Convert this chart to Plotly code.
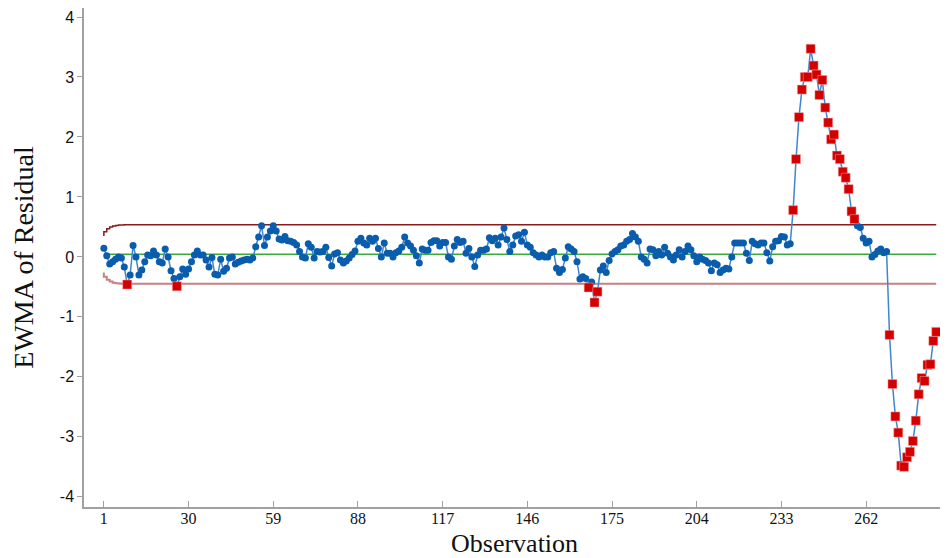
import plotly.graph_objects as go

# EWMA of residual values, observation 1..N
ewma = [
    0.145, 0.02, -0.12, -0.08, -0.04, 0.0, -0.02, -0.17, -0.46, -0.3,
    0.19, 0.0, -0.3, -0.22, -0.08, 0.03, 0.02, 0.1, 0.03, -0.08,
    -0.1, 0.13, 0.0, -0.23, -0.36, -0.49, -0.33, -0.2, -0.29, -0.2,
    -0.08, 0.03, 0.1, 0.03, 0.03, -0.05, -0.17, -0.01, -0.29, -0.3,
    -0.04, -0.24, -0.19, -0.02, 0.0, -0.12, -0.09, -0.07, -0.05, -0.04,
    -0.05, -0.02, 0.17, 0.33, 0.52, 0.19, 0.33, 0.43, 0.52, 0.43,
    0.3, 0.28, 0.34, 0.27, 0.26, 0.24, 0.2, 0.09, 0.0, -0.02,
    0.22, 0.16, -0.02, 0.09, 0.08, 0.09, 0.16, -0.01, -0.15, 0.05,
    0.07, -0.05, -0.1, -0.07, -0.02, 0.04, 0.1, 0.26, 0.31, 0.23,
    0.2, 0.31, 0.26, 0.31, 0.14, 0.0, 0.23, 0.06, 0.06, 0.0,
    0.07, 0.1, 0.16, 0.33, 0.23, 0.18, 0.11, 0.02, -0.1, 0.13,
    0.11, 0.11, 0.24, 0.27, 0.27, 0.18, 0.24, 0.24, 0.0, -0.04,
    0.18, 0.29, 0.24, 0.26, 0.06, 0.14, 0.0, -0.16, 0.03, 0.11,
    0.11, 0.13, 0.32, 0.27, 0.31, 0.2, 0.33, 0.48, 0.29, 0.09,
    0.2, 0.35, 0.37, 0.26, 0.41, 0.2, 0.16, 0.07, 0.03, 0.0,
    0.03, 0.0, 0.0, 0.07, 0.09, -0.19, -0.26, -0.21, -0.02, 0.17,
    0.13, 0.09, -0.08, -0.37, -0.33, -0.36, -0.51, -0.42, -0.76, -0.58,
    -0.22, -0.15, -0.26, -0.06, 0.05, 0.09, 0.12, 0.18, 0.2, 0.26,
    0.29, 0.39, 0.33, 0.26, 0.0, -0.04, -0.1, 0.13, 0.12, 0.02,
    0.09, 0.03, 0.16, 0.06, 0.0, -0.05, 0.03, 0.12, 0.0, 0.09,
    0.18, 0.12, 0.02, -0.08, 0.0, -0.04, -0.06, -0.1, -0.23, -0.1,
    -0.13, -0.26, -0.22, -0.19, -0.2, 0.0, 0.23, 0.23, 0.23, 0.23,
    0.06, -0.06, 0.26, 0.22, 0.2, 0.23, 0.23, 0.07, -0.07, 0.17,
    0.26, 0.27, 0.34, 0.33, 0.2, 0.22, 0.78, 1.63, 2.33, 2.79,
    3.0, 3.0, 3.47, 3.19, 3.04, 2.7, 2.95, 2.49, 2.24, 1.96,
    2.04, 1.69, 1.63, 1.42, 1.32, 1.13, 0.76, 0.63, 0.52, 0.49,
    0.31, 0.23, 0.26, 0.0, 0.04, 0.1, 0.13, 0.07, 0.09, -1.3,
    -2.12, -2.66, -2.93, -3.48, -3.5, -3.34, -3.25, -3.07, -2.73, -2.29,
    -2.02, -2.07, -1.8, -1.79, -1.4, -1.25,
]

# Control limits (first observations widen, then steady)
center_value = 0.045
ucl_start = [0.35, 0.42, 0.47, 0.50, 0.515, 0.525, 0.53, 0.533]
ucl_steady = 0.535
lcl_start = [-0.26, -0.33, -0.38, -0.41, -0.43, -0.44, -0.445, -0.447]
lcl_steady = -0.447

x_tick_vals = [1, 30, 59, 88, 117, 146, 175, 204, 233, 262]
y_tick_vals = [-4, -3, -2, -1, 0, 1, 2, 3, 4]
y_tick_text = ["-4", "-3", "-2", "-1", "0", "1", "2", "3", "4"]

n = len(ewma)
obs = list(range(1, n + 1))
ucl = ucl_start + [ucl_steady] * (n - len(ucl_start))
lcl = lcl_start + [lcl_steady] * (n - len(lcl_start))
center = [center_value] * n

out_x = [o for o, v, u, l in zip(obs, ewma, ucl, lcl) if v > u or v < l]
out_y = [v for o, v, u, l in zip(obs, ewma, ucl, lcl) if v > u or v < l]
in_x = [o for o, v, u, l in zip(obs, ewma, ucl, lcl) if l <= v <= u]
in_y = [v for o, v, u, l in zip(obs, ewma, ucl, lcl) if l <= v <= u]

fig = go.Figure()
fig.add_trace(go.Scatter(x=obs, y=ucl, mode="lines", line=dict(color="#8b1a1a", width=1.5, shape="vh"), hoverinfo="skip"))
fig.add_trace(go.Scatter(x=obs, y=lcl, mode="lines", line=dict(color="#c98080", width=2, shape="vh"), hoverinfo="skip"))
fig.add_trace(go.Scatter(x=obs, y=center, mode="lines", line=dict(color="#3aaa3a", width=1.5), hoverinfo="skip"))
fig.add_trace(go.Scatter(x=obs, y=ewma, mode="lines", line=dict(color="#3f86cc", width=1.5)))
fig.add_trace(go.Scatter(x=in_x, y=in_y, mode="markers",
                         marker=dict(color="#0a5cad", size=7, symbol="circle")))
fig.add_trace(go.Scatter(x=out_x, y=out_y, mode="markers",
                         marker=dict(color="#d40000", size=9, symbol="square",
                                     line=dict(color="#f0a0a0", width=0.5))))

# page body has an 8px margin: size/margins compensate so the plot area
# lands at x 84..945, y 8..507 of the 948x558 window
fig.update_layout(
    width=940, height=550,
    margin=dict(l=76, r=3, t=0, b=51, autoexpand=False),
    paper_bgcolor="white", plot_bgcolor="white",
    showlegend=False,
    annotations=[dict(
        text="Observation", xref="paper", yref="paper", x=0.5, y=0,
        xanchor="center", yanchor="top", yshift=-20, showarrow=False,
        font=dict(family="Liberation Serif", size=26, color="#111"),
    )],
)
fig.update_xaxes(
    range=[-5.8, 289], tickvals=x_tick_vals, ticks="inside", ticklen=6,
    tickcolor="#a0a0a0", showline=True, linecolor="#a0a0a0", linewidth=1.5,
    mirror=True, showgrid=False, zeroline=False, automargin=False,
    ticklabelstandoff=-4,
    tickfont=dict(family="Liberation Serif", size=16, color="#111"),
)
fig.update_yaxes(
    range=[-4.17, 4.15], tickvals=y_tick_vals, ticktext=y_tick_text, ticks="outside", ticklen=5,
    tickcolor="#a0a0a0", showline=True, linecolor="#a0a0a0", linewidth=1.5,
    mirror=True, showgrid=False, zeroline=False, automargin=False,
    tickfont=dict(family="Liberation Sans", size=16, color="#111"),
    title=dict(text="EWMA of Residual", font=dict(family="Liberation Serif", size=28, color="#111"), standoff=18),
)

fig.write_html("out.html")
